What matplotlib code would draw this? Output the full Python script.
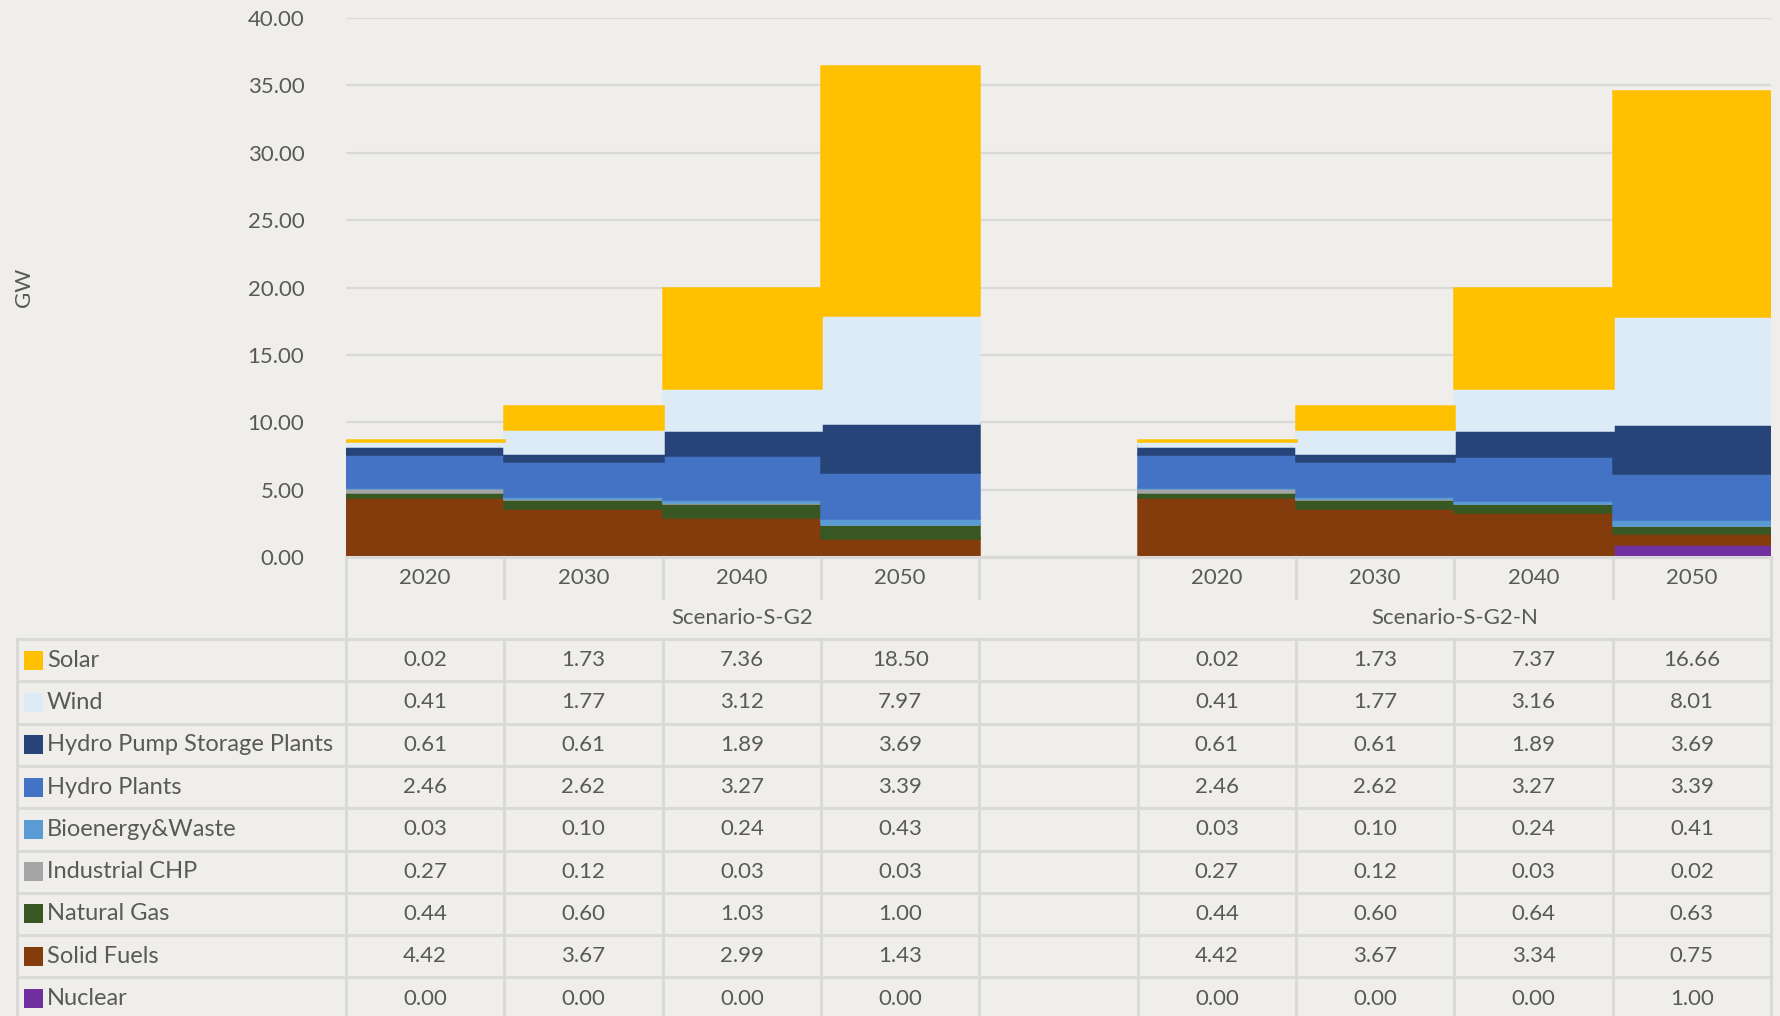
import matplotlib
matplotlib.use("Agg")
import matplotlib.pyplot as plt
import numpy as np

plt.rcParams["font.family"] = ["Lato", "DejaVu Sans"]

# ---- data (GW) ------------------------------------------------------------
years = ["2020", "2030", "2040", "2050"]
scenarios = ["Scenario-S-G2", "Scenario-S-G2-N"]

# each list: four years of Scenario-S-G2 followed by four years of Scenario-S-G2-N
solar = [0.02, 1.73, 7.36, 18.50, 0.02, 1.73, 7.37, 16.66]
wind = [0.41, 1.77, 3.12, 7.97, 0.41, 1.77, 3.16, 8.01]
pump_storage = [0.61, 0.61, 1.89, 3.69, 0.61, 0.61, 1.89, 3.69]
hydro = [2.46, 2.62, 3.27, 3.39, 2.46, 2.62, 3.27, 3.39]
bioenergy = [0.03, 0.10, 0.24, 0.43, 0.03, 0.10, 0.24, 0.41]
industrial_chp = [0.27, 0.12, 0.03, 0.03, 0.27, 0.12, 0.03, 0.02]
natural_gas = [0.44, 0.60, 1.03, 1.00, 0.44, 0.60, 0.64, 0.63]
solid_fuels = [4.42, 3.67, 2.99, 1.43, 4.42, 3.67, 3.34, 0.75]
nuclear = [0.00, 0.00, 0.00, 0.00, 0.00, 0.00, 0.00, 1.00]

# table order (top to bottom) = legend order
series_names = ["Solar", "Wind", "Hydro Pump Storage Plants", "Hydro Plants",
                "Bioenergy&Waste", "Industrial CHP", "Natural Gas", "Solid Fuels",
                "Nuclear"]
series_values = [solar, wind, pump_storage, hydro, bioenergy, industrial_chp,
                 natural_gas, solid_fuels, nuclear]
series_colors = ["#FFC000", "#DDEBF7", "#264478", "#4472C4", "#5B9BD5",
                 "#A5A5A5", "#385723", "#843C0C", "#7030A0"]

# ---- layout ---------------------------------------------------------------
W, H = 1780, 1016
BG = "#EFEEEA"
GRID = "#D9D9D9"
TXT = "#595959"
FS = 16

n_slots = 9                       # 4 years + spacer + 4 years
slot_pos = [0, 1, 2, 3, 5, 6, 7, 8]

plot_l, plot_r, plot_t, plot_b = 346, 1771, 18, 557

fig = plt.figure(figsize=(W / 100, H / 100), dpi=100, facecolor=BG)
ax = fig.add_axes([plot_l / W, 1 - plot_b / H, (plot_r - plot_l) / W,
                   (plot_b - plot_t) / H])
ax.set_facecolor(BG)
ax.set_xlim(-0.5, n_slots - 0.5)
ax.set_ylim(0, 40)
ax.set_yticks(np.arange(0, 40.1, 5))
ax.set_yticklabels([f"{v:.2f}" for v in np.arange(0, 40.1, 5)])
ax.tick_params(axis="y", length=0, pad=30, labelsize=FS, labelcolor=TXT)
ax.set_xticks([])
for s in ax.spines.values():
    s.set_visible(False)
ax.grid(axis="y", color=GRID, lw=1.6)
ax.set_axisbelow(True)

# stacked columns, bottom to top
bottom = np.zeros(len(slot_pos))
for vals, col in reversed(list(zip(series_values, series_colors))):
    v = np.array(vals)
    ax.bar(slot_pos, v, bottom=bottom, width=1.0, color=col,
           edgecolor=col, linewidth=1.8, zorder=3)
    bottom += v

fig.text(24 / W, 1 - ((plot_t + plot_b) / 2) / H, "GW", rotation=90,
         ha="center", va="center", fontsize=FS, color=TXT)

# ---- data table -----------------------------------------------------------
tab = fig.add_axes([0, 0, 1, 1], zorder=5)
tab.set_xlim(0, W)
tab.set_ylim(H, 0)
tab.axis("off")
tab.patch.set_alpha(0)

slot_w = (plot_r - plot_l) / n_slots
edges = [plot_l + k * slot_w for k in range(n_slots + 1)]


def slot_center(i):
    return plot_l + (i + 0.5) * slot_w


legend_l = 17
year_row = (plot_b, 598)
scen_row = (598, 639)
row_h = 42.3
row_tops = [639 + k * row_h for k in range(len(series_names) + 1)]

lw = 2.2
# axis baseline
tab.plot([plot_l, plot_r], [plot_b, plot_b], color=GRID, lw=lw, zorder=1)
# year row separators
for x in edges:
    tab.plot([x, x], list(year_row), color=GRID, lw=lw)
# scenario row separators
group_edges = [edges[0], edges[5], edges[9]]
for x in group_edges:
    tab.plot([x, x], list(scen_row), color=GRID, lw=lw)
# data rows grid
for y in row_tops:
    tab.plot([legend_l, plot_r], [y, y], color=GRID, lw=lw)
for x in [legend_l] + edges:
    tab.plot([x, x], [row_tops[0], row_tops[-1]], color=GRID, lw=lw)

# year and scenario labels
for gi, scen in enumerate(scenarios):
    for yi, yr in enumerate(years):
        tab.text(slot_center(slot_pos[gi * 4 + yi]), sum(year_row) / 2, yr,
                 ha="center", va="center", fontsize=FS, color=TXT)
    tab.text((group_edges[gi] + group_edges[gi + 1]) / 2, sum(scen_row) / 2,
             scen, ha="center", va="center", fontsize=FS, color=TXT)

# series rows
for r, (name, vals, col) in enumerate(zip(series_names, series_values,
                                            series_colors)):
    yc = (row_tops[r] + row_tops[r + 1]) / 2
    tab.add_patch(plt.Rectangle((24, yc - 9.5), 19, 19, color=col, lw=0))
    tab.text(47, yc, name, ha="left", va="center", fontsize=FS + 1, color=TXT)
    for i, v in zip(slot_pos, vals):
        tab.text(slot_center(i), yc, f"{v:.2f}", ha="center", va="center",
                 fontsize=FS, color=TXT)

fig.savefig("out.png", dpi=100, facecolor=BG)
